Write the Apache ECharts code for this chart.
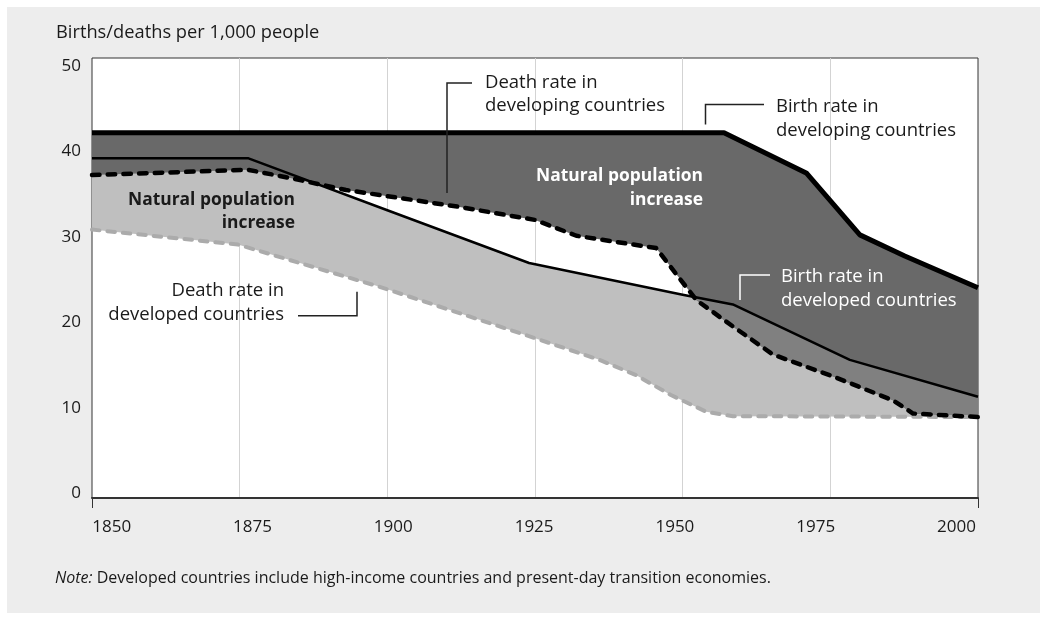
<!DOCTYPE html>
<html>
<head>
<meta charset="utf-8">
<script src="https://cdn.jsdelivr.net/npm/echarts@6/dist/echarts.min.js"></script>
<style>
html,body{margin:0;padding:0;background:#fff;}
#chart{width:1047px;height:622px;}
</style>
</head>
<body>
<div id="chart"></div>
<script>
// tick labels
let years = [1850, 1875, 1900, 1925, 1950, 1975, 2000];
let yTicks = [0, 10, 20, 30, 40, 50];

// births / deaths per 1,000 people, [year, value]
let birthDeveloping = [[1850, 41.5], [1957, 41.5], [1971, 36.9], [1980, 29.9], [1987.6, 27.5], [2000, 23.9]];
let deathDeveloping = [[1850, 36.7], [1876.4, 37.3], [1884, 36.3], [1893, 35.0], [1912, 33.1], [1925, 31.6], [1932, 29.8], [1945.5, 28.4], [1952.3, 22.5], [1958.5, 19.5], [1965.3, 16.3], [1975.5, 13.8], [1985.6, 11.1], [1989, 9.6], [2000, 9.2]];
let birthDeveloped = [[1850, 38.6], [1876.5, 38.6], [1900, 32.7], [1924, 26.7], [1950, 23.1], [1958.5, 22.0], [1967.6, 19.1], [1978.3, 15.7], [2000, 11.5]];
let deathDeveloped = [[1850, 30.5], [1874.7, 28.8], [1898.7, 24.0], [1923.5, 18.5], [1935.9, 15.7], [1942, 14.0], [1948, 11.7], [1954, 9.8], [1958.5, 9.3], [2000, 9.2]];

const FONT = '"Open Sans", "Noto Sans", sans-serif';
const INK = '#1a1a1a';

// value of a polyline at x
let interp = (line, x) => {
    for (let i = 1; i < line.length; i++) {
        let [x0, y0] = line[i - 1], [x1, y1] = line[i];
        if (x <= x1) return y0 + (y1 - y0) * (x - x0) / (x1 - x0);
    }
    return line[line.length - 1][1];
};

// where developed birth rate goes above developing death rate (after 1940)
let allXs = [...new Set(birthDeveloped.concat(deathDeveloping).map(p => p[0]))].sort((a, b) => a - b);
let crossYear = (() => {
    let xs = allXs.filter(x => x > 1940);
    for (let i = 1; i < xs.length; i++) {
        let d0 = interp(deathDeveloping, xs[i - 1]) - interp(birthDeveloped, xs[i - 1]);
        let d1 = interp(deathDeveloping, xs[i]) - interp(birthDeveloped, xs[i]);
        if (d0 >= 0 && d1 < 0) return xs[i - 1] + (xs[i] - xs[i - 1]) * d0 / (d0 - d1);
    }
    return 1952;
})();
let overlapXs = [crossYear].concat(allXs.filter(x => x > crossYear));
let overlapTop = overlapXs.map(x => [x, interp(birthDeveloped, x)]);
let overlapBottom = overlapXs.map(x => [x, interp(deathDeveloping, x)]);

// filled band between two lines
let band = (name, upper, lower, color) => ({
    name, type: 'custom', silent: true, z: 1,
    data: [upper[0]],
    renderItem: (params, api) => {
        let pts = upper.concat(lower.slice().reverse()).map(p => api.coord(p));
        return { type: 'polygon', shape: { points: pts }, style: { fill: color } };
    }
});

let line = (name, data, color, width, dash) => ({
    name, type: 'line', data, symbol: 'none', silent: true, z: 3,
    lineStyle: { color, width, type: dash || 'solid', cap: dash ? 'round' : 'butt', join: 'round' }
});

let text = (s, x, y, align, opts) => Object.assign({
    type: 'text', x, y, z: 50,
    style: Object.assign({ text: s, fontFamily: FONT, fontSize: 18.5, fill: INK, align, verticalAlign: 'middle' }, opts || {})
});
let bracket = (points, color) => ({
    type: 'polyline', z: 50, shape: { points },
    style: { stroke: color, lineWidth: 1.5, fill: null }
});
let hidden = { axisLine: { show: false }, axisTick: { show: false }, splitLine: { show: false } };

let myChart = echarts.init(document.getElementById('chart'));

let option = {
    backgroundColor: '#fff',
    animation: false,
    grid: [
        // plot box
        { left: 92, right: 69, top: 58, bottom: 124, show: true, backgroundColor: '#fff', borderColor: '#333', borderWidth: 1 },
        // tick labels sit a little inside the box in the original
        { left: 111.7, right: 90.5, top: 65.7, bottom: 128.7, show: false }
    ],
    xAxis: [
        {
            type: 'value', min: 1850, max: 2000, interval: 25, gridIndex: 0,
            axisLine: { show: true, lineStyle: { color: '#333', width: 2 } },
            axisTick: { show: false }, axisLabel: { show: false },
            splitLine: { show: true, showMinLine: false, showMaxLine: false, lineStyle: { color: '#d3d3d3', width: 1 } }
        },
        Object.assign({
            type: 'value', min: 1850, max: 2000, interval: 25, gridIndex: 1, position: 'bottom',
            axisLabel: {
                margin: 25, fontSize: 17, lineHeight: 17, fontFamily: FONT, color: INK,
                formatter: v => years.includes(v) ? String(v) : ''
            }
        }, hidden),
        {   // end ticks
            type: 'value', min: 0, max: 150, interval: 150, gridIndex: 0, position: 'bottom',
            axisLine: { show: false }, axisLabel: { show: false }, splitLine: { show: false },
            axisTick: { show: true, length: 10, lineStyle: { color: '#333', width: 1 } }
        }
    ],
    yAxis: [
        Object.assign({ type: 'value', min: 0, max: 50, interval: 10, gridIndex: 0, axisLabel: { show: false } }, hidden),
        Object.assign({
            type: 'value', min: 0, max: 50, interval: 10, gridIndex: 1, position: 'left',
            axisLabel: {
                margin: 30.7, fontSize: 17, fontFamily: FONT, color: INK,
                formatter: v => yTicks.includes(v) ? String(v) : ''
            }
        }, hidden)
    ],
    series: [
        band('developed increase', birthDeveloped, deathDeveloped, '#bfbfbf'),
        band('developing increase', birthDeveloping, deathDeveloping, '#696969'),
        band('overlap', overlapTop, overlapBottom, '#808080'),
        line('Death rate in developed countries', deathDeveloped, '#ababab', 4, [7.5, 8]),
        line('Birth rate in developed countries', birthDeveloped, '#000', 2.5),
        line('Death rate in developing countries', deathDeveloping, '#000', 4.5, [7.5, 8.2]),
        line('Birth rate in developing countries', birthDeveloping, '#000', 5)
    ],
    graphic: [
        { type: 'rect', z: -100, shape: { x: 7, y: 7, width: 1033, height: 606 }, style: { fill: '#ededed' } },
        text('Births/deaths per 1,000 people', 56, 33, 'left', { fontSize: 18.3 }),

        text('Death rate in', 485, 83, 'left'),
        text('developing countries', 485, 106, 'left'),
        bracket([[447, 193], [447, 83], [472, 83]], '#222'),

        text('Birth rate in', 776, 107, 'left'),
        text('developing countries', 776, 131, 'left'),
        bracket([[705.5, 124.5], [705.5, 104.5], [764, 104.5]], '#222'),

        text('Natural population', 295, 200, 'right', { fontWeight: 'bold', fontSize: 17.4 }),
        text('increase', 295, 223, 'right', { fontWeight: 'bold', fontSize: 17.4 }),

        text('Natural population', 703, 176, 'right', { fontWeight: 'bold', fontSize: 17.4, fill: '#fff' }),
        text('increase', 703, 200, 'right', { fontWeight: 'bold', fontSize: 17.4, fill: '#fff' }),

        text('Birth rate in', 781, 277, 'left', { fill: '#fff' }),
        text('developed countries', 781, 300.5, 'left', { fill: '#fff' }),
        bracket([[740, 300], [740, 275], [770, 275]], '#fff'),

        text('Death rate in', 284, 291, 'right'),
        text('developed countries', 284, 314.5, 'right'),
        bracket([[298, 315.7], [357, 315.7], [357, 291.7]], '#222'),

        {
            type: 'text', x: 55, y: 578, z: 50,
            style: {
                text: '{i|Note:} Developed countries include high-income countries and present-day transition economies.',
                fontFamily: FONT, fontSize: 16, fill: INK, verticalAlign: 'middle',
                rich: { i: { fontStyle: 'italic', fontFamily: FONT, fontSize: 16, fill: INK } }
            }
        }
    ]
};

myChart.setOption(option);
</script>
</body>
</html>
